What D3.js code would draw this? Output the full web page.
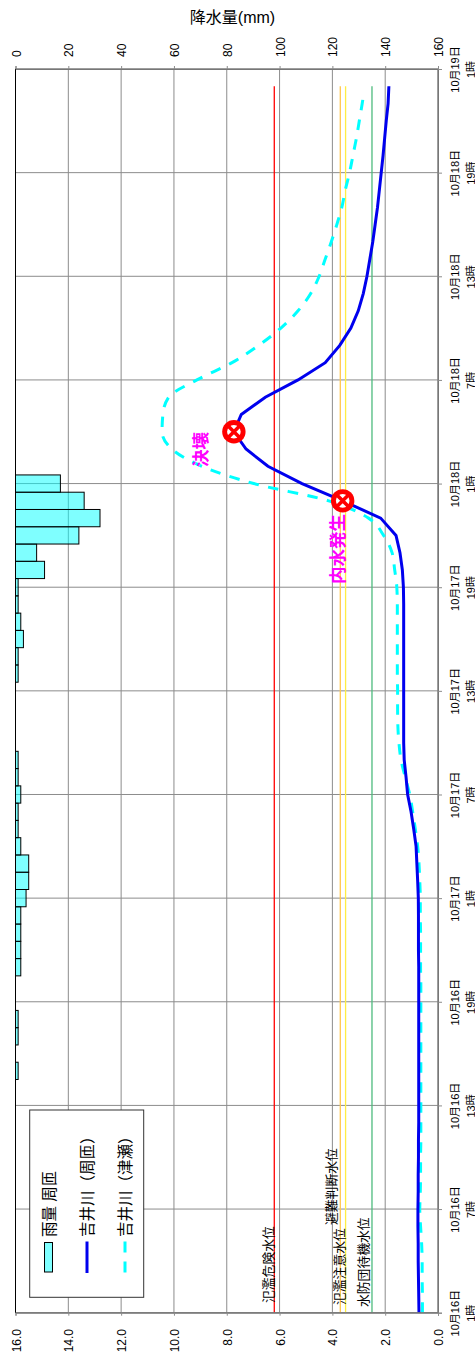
<!DOCTYPE html>
<html>
<head>
<meta charset="utf-8">
<script src="https://cdn.jsdelivr.net/npm/d3@7"></script>
<style>
  html, body { margin: 0; padding: 0; background: #fff; }
  svg { display: block; }
  text { font-family: "Liberation Sans", "Noto Sans CJK JP", sans-serif; fill: #000; }
</style>
</head>
<body>
<script>
// 時間雨量(mm) : 10月16日1時からの経過時間ごと
const rainHours = [14, 16, 17, 20, 21, 22, 23, 24, 25, 26, 27, 28, 29, 30, 31, 32, 37, 38, 39, 40, 41, 42, 43, 44, 45, 46, 47, 48];
const rainValues = [1, 1, 1, 2, 2, 2, 2, 4, 5, 5, 2, 1, 1, 2, 1, 1, 1, 1, 3, 2, 1, 1, 11, 8, 24, 32, 26, 17];

// 水位(m) : 吉井川(周匝) 0〜71時間
const suzaiLevel = [
  0.72, 0.73, 0.74, 0.75, 0.75, 0.76, 0.76, 0.75, 0.75, 0.74, 0.74, 0.73,
  0.73, 0.73, 0.73, 0.73, 0.73, 0.73, 0.73, 0.73, 0.73, 0.74, 0.74, 0.74,
  0.745, 0.77, 0.8, 0.83, 0.92, 1.02, 1.15, 1.21, 1.28, 1.3, 1.3, 1.3,
  1.3, 1.3, 1.3, 1.3, 1.3, 1.3, 1.31, 1.35, 1.44, 1.59, 2.17, 3.61,
  5.15, 6.44, 7.27, 7.73, 7.45, 6.54, 5.3, 4.27, 3.72, 3.3, 3.02, 2.83,
  2.69, 2.58, 2.47, 2.38, 2.29, 2.22, 2.15, 2.08, 2.02, 1.96, 1.89, 1.86
];

// 水位(m) : 吉井川(津瀬) 最後だけ70.5時間まで
const tsuseHours = d3.range(71).concat(70.5);
const tsuseLevel = [
  0.59, 0.59, 0.6, 0.6, 0.62, 0.66, 0.69, 0.67, 0.66, 0.66, 0.65, 0.65,
  0.65, 0.65, 0.65, 0.65, 0.65, 0.65, 0.65, 0.65, 0.66, 0.66, 0.66, 0.67,
  0.67, 0.69, 0.72, 0.77, 0.86, 0.96, 1.07, 1.24, 1.4, 1.48, 1.52, 1.53,
  1.53, 1.54, 1.54, 1.54, 1.54, 1.54, 1.56, 1.64, 1.74, 2.06, 2.63, 4.14,
  6.98, 8.94, 10.08, 10.45, 10.42, 10.2, 9.13, 7.8, 6.79, 5.95, 5.3, 4.82,
  4.5, 4.27, 4.04, 3.83, 3.64, 3.51, 3.35, 3.22, 3.09, 2.98, 2.87, 2.82
];

// 基準水位
const levelNames = ["氾濫危険水位", "避難判断水位", "氾濫注意水位", "水防団待機水位"];
const levelValues = [6.2, 3.7, 3.5, 2.5];
const levelColors = ["#ff0000", "#ffc64d", "#ffee44", "#4dbb7d"];

// 軸ラベル
const timeTicks = [0, 6, 12, 18, 24, 30, 36, 42, 48, 54, 60, 66, 72];
const dateLabels = ["10月16日", "10月16日", "10月16日", "10月16日", "10月17日", "10月17日", "10月17日", "10月17日", "10月18日", "10月18日", "10月18日", "10月18日", "10月19日"];
const hourLabels = ["1時", "7時", "13時", "19時", "1時", "7時", "13時", "19時", "1時", "7時", "13時", "19時", "1時"];
const rainTicks = [0, 20, 40, 60, 80, 100, 120, 140, 160];
const levelTicks = [0, 2, 4, 6, 8, 10, 12, 14, 16];

// イベント
const eventNames = ["内水発生", "決壊"];
const eventHours = [47, 51];

const width = 475;
const height = 1358;
const plot = { left: 15.5, right: 438, top: 69, bottom: 1312.7 };

const svg = d3.select("body").append("svg")
  .attr("width", width)
  .attr("height", height);

// グラフ全体が90度回転しているので横軸が値、縦軸が時間
const yTime = d3.scaleLinear().domain([0, 72]).range([plot.bottom, plot.top]);
const xRain = d3.scaleLinear().domain([0, 160]).range([plot.left, plot.right]);
const xLevel = d3.scaleLinear().domain([16, 0]).range([plot.left, plot.right]);
const barHeight = yTime(0) - yTime(1);

// 目盛線
svg.append("g").selectAll("line").data(rainTicks).join("line")
  .attr("x1", (d) => xRain(d)).attr("x2", (d) => xRain(d))
  .attr("y1", plot.top).attr("y2", plot.bottom)
  .attr("stroke", "#8c8c8c").attr("stroke-width", 1);

svg.append("g").selectAll("line").data(timeTicks).join("line")
  .attr("x1", plot.left).attr("x2", plot.right)
  .attr("y1", (d) => yTime(d)).attr("y2", (d) => yTime(d))
  .attr("stroke", "#8c8c8c").attr("stroke-width", 1);

// 雨量の棒
svg.append("g").selectAll("rect").data(rainHours).join("rect")
  .attr("x", xRain(0))
  .attr("y", (d) => yTime(d) - barHeight / 2)
  .attr("width", (d, i) => xRain(rainValues[i]) - xRain(0))
  .attr("height", barHeight)
  .attr("fill", "#00ffff")
  .attr("fill-opacity", 0.5)
  .attr("stroke", "#000")
  .attr("stroke-width", 1);

// 基準水位の線
svg.append("g").selectAll("line").data(levelValues).join("line")
  .attr("x1", (d) => xLevel(d)).attr("x2", (d) => xLevel(d))
  .attr("y1", yTime(0)).attr("y2", yTime(71))
  .attr("stroke", (d, i) => levelColors[i])
  .attr("stroke-width", 1.3);

const line = d3.line()
  .x((d) => xLevel(d[1]))
  .y((d) => yTime(d[0]));

svg.append("path")
  .attr("d", line.curve(d3.curveMonotoneY)(tsuseLevel.map((v, i) => [tsuseHours[i], v])))
  .attr("fill", "none")
  .attr("stroke", "#00ffff")
  .attr("stroke-width", 3)
  .attr("stroke-dasharray", "10.5,9.5");

// 周匝は角が残っているので直線でつなぐ
svg.append("path")
  .attr("d", line.curve(d3.curveLinear)(suzaiLevel.map((v, i) => [i, v])))
  .attr("fill", "none")
  .attr("stroke", "#0000ee")
  .attr("stroke-width", 3);

// 外枠
svg.append("rect")
  .attr("x", plot.left).attr("y", plot.top)
  .attr("width", plot.right - plot.left).attr("height", plot.bottom - plot.top)
  .attr("fill", "none").attr("stroke", "#777").attr("stroke-width", 1);
svg.append("line")
  .attr("x1", plot.left).attr("x2", plot.left)
  .attr("y1", plot.top).attr("y2", plot.bottom)
  .attr("stroke", "#000").attr("stroke-width", 1);

// 軸 : ラベルはすべて-90度回転 (tickのgが位置を持つので相対で置く)
const topAxis = svg.append("g")
  .attr("transform", `translate(0,${plot.top})`)
  .call(d3.axisTop(xRain).tickValues(rainTicks).tickSize(3).tickFormat(d3.format("d")));
topAxis.selectAll("text")
  .attr("x", 0).attr("y", 0).attr("dy", 0)
  .attr("transform", `translate(4.5,${57 - plot.top}) rotate(-90)`)
  .attr("text-anchor", "start")
  .style("font-size", "12px");

const bottomAxis = svg.append("g")
  .attr("transform", `translate(0,${plot.bottom})`)
  .call(d3.axisBottom(xLevel).tickValues(levelTicks).tickSize(3).tickFormat(d3.format(".1f")));
bottomAxis.selectAll("text")
  .attr("x", 0).attr("y", 0).attr("dy", 0)
  .attr("transform", `translate(4.5,${1329 - plot.bottom}) rotate(-90)`)
  .attr("text-anchor", "end")
  .style("font-size", "12px");

const rightAxis = svg.append("g")
  .attr("transform", `translate(${plot.right},0)`)
  .call(d3.axisRight(yTime).tickValues(timeTicks).tickSize(4)
    .tickFormat((d, i) => dateLabels[i]));
rightAxis.selectAll(".tick text")
  .attr("x", 0).attr("y", 0).attr("dy", 0)
  .attr("text-anchor", "middle")
  .attr("transform", "translate(21,0) rotate(-90)")
  .style("font-size", "11px");
rightAxis.selectAll(".tick").append("text")
  .attr("text-anchor", "middle")
  .attr("transform", "translate(36.5,0) rotate(-90)")
  .style("font-size", "11px")
  .attr("fill", "#000")
  .text((d, i) => hourLabels[i]);
svg.selectAll(".domain").attr("stroke", "#777");
svg.selectAll(".tick line").attr("stroke", "#8c8c8c");

// 軸タイトル
svg.append("text")
  .attr("x", 232.5).attr("y", 23)
  .attr("text-anchor", "middle")
  .style("font-size", "16px")
  .text("降水量(mm)");

// 基準水位の名前
const levelLabels = [
  { x: 273, y: 1303 },
  { x: 336, y: 1225 },
  { x: 344, y: 1305 },
  { x: 368, y: 1307 }
];
svg.append("g").selectAll("text").data(levelNames).join("text")
  .attr("transform", (d, i) => `translate(${levelLabels[i].x},${levelLabels[i].y}) rotate(-90)`)
  .style("font-size", "12.8px")
  .text((d) => d);

// 決壊・内水発生のマーク
const eventPoints = eventHours.map((h) => ({ x: xLevel(suzaiLevel[h]), y: yTime(h) }));
const marks = svg.append("g").selectAll("g").data(eventPoints).join("g")
  .attr("transform", (d) => `translate(${d.x},${d.y})`);
marks.append("circle").attr("r", 11.7).attr("fill", "#ff0000");
marks.append("circle").attr("r", 6.8).attr("fill", "#fff");
marks.append("path").attr("d", "M-7,-7L7,7M-7,7L7,-7").attr("stroke", "#ff0000").attr("stroke-width", 3.6);

const eventLabels = [{ x: 344, y: 584 }, { x: 207, y: 467 }];
svg.append("g").selectAll("text").data(eventNames).join("text")
  .attr("transform", (d, i) => `translate(${eventLabels[i].x},${eventLabels[i].y}) rotate(-90)`)
  .style("font-size", "17.5px")
  .style("font-weight", "bold")
  .style("fill", "#ff00ff")
  .text((d) => d);

// 凡例
const legend = svg.append("g");
legend.append("rect")
  .attr("x", 29.7).attr("y", 1110)
  .attr("width", 114).attr("height", 187.3)
  .attr("fill", "#fff").attr("stroke", "#333").attr("stroke-width", 1);
legend.append("rect")
  .attr("x", 44.5).attr("y", 1242.5)
  .attr("width", 8).attr("height", 29.5)
  .attr("fill", "#00ffff").attr("fill-opacity", 0.5).attr("stroke", "#000");
legend.append("line")
  .attr("x1", 87).attr("x2", 87).attr("y1", 1241.5).attr("y2", 1273)
  .attr("stroke", "#0000ee").attr("stroke-width", 3);
legend.append("line")
  .attr("x1", 125).attr("x2", 125).attr("y1", 1241.5).attr("y2", 1273)
  .attr("stroke", "#00ffff").attr("stroke-width", 3).attr("stroke-dasharray", "11,9");

const legendNames = ["雨量 周匝", "吉井川（周匝）", "吉井川（津瀬）"];
const legendX = [55, 93, 131];
legend.selectAll("text").data(legendNames).join("text")
  .attr("transform", (d, i) => `translate(${legendX[i]},1237) rotate(-90)`)
  .style("font-size", "15.5px")
  .text((d) => d);
</script>
</body>
</html>
